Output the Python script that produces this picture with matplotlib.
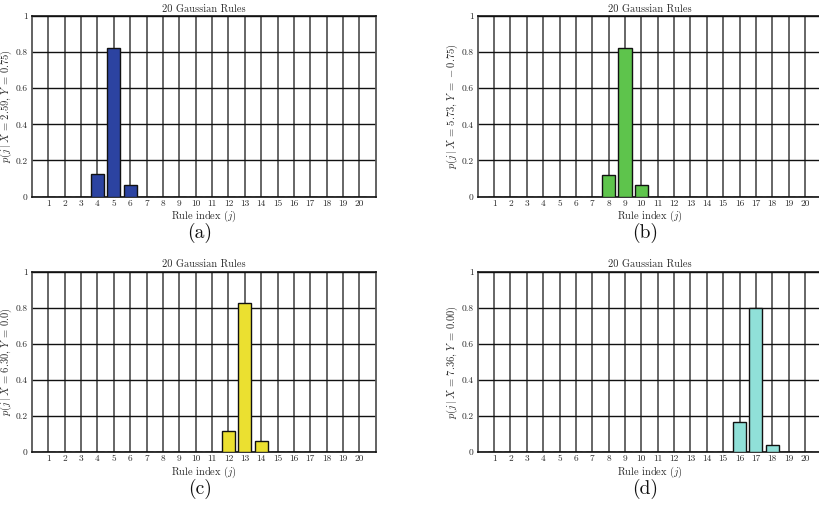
import matplotlib
matplotlib.use('Agg')
import matplotlib.pyplot as plt
import numpy as np

plt.rcParams['font.family'] = 'cmr10'
plt.rcParams['mathtext.fontset'] = 'cm'
plt.rcParams['axes.formatter.use_mathtext'] = True

# Rule indices and posterior probabilities for each query point
rules = np.arange(1, 21)
probs_a = [0, 0, 0, 0.122, 0.821, 0.061] + [0] * 14
probs_b = [0] * 7 + [0.118, 0.821, 0.063] + [0] * 10
probs_c = [0] * 11 + [0.115, 0.826, 0.063] + [0] * 6
probs_d = [0] * 15 + [0.167, 0.800, 0.041] + [0] * 2

ylabels = [r'$p(j\,|\,X\,=\,2.59,\,Y\,=\,0.75)$',
           r'$p(j\,|\,X\,=\,5.73,\,Y\,=\,-0.75)$',
           r'$p(j\,|\,X\,=\,6.30,\,Y\,=\,0.0)$',
           r'$p(j\,|\,X\,=\,7.36,\,Y\,=\,0.00)$']
panel_tags = ['(a)', '(b)', '(c)', '(d)']
colors = ['#2c43a1', '#5ec44c', '#ebe030', '#90e0d8']
ytick_vals = [0, 0.2, 0.4, 0.6, 0.8, 1]
ytick_labels = ['0', '0.2', '0.4', '0.6', '0.8', '1']

fig = plt.figure(figsize=(8.19, 5.05), dpi=100)

W, H = 819, 505
ax_w, ax_h = 343.7, 180.5
# left / top pixel positions of each panel
boxes = [(32, 16), (477.7, 16), (32, 271.5), (477.7, 271.5)]

text_col = '#2a2a2a'
for k, probs in enumerate([probs_a, probs_b, probs_c, probs_d]):
    x0, y0 = boxes[k]
    ax = fig.add_axes([x0 / W, 1 - (y0 + ax_h) / H, ax_w / W, ax_h / H])
    ax.set_axisbelow(True)
    ax.bar(rules, probs, width=0.8, color=colors[k], edgecolor='#111111', linewidth=1.0, zorder=3)

    ax.set_xlim(0, 21)
    ax.set_ylim(0, 1)
    ax.set_xticks(rules)
    ax.set_xticklabels([str(r) for r in rules], fontsize=6.8, color=text_col)
    ax.set_yticks(ytick_vals)
    ax.set_yticklabels(ytick_labels, fontsize=6.8, color=text_col)
    ax.tick_params(axis='x', length=0, pad=2)
    ax.tick_params(axis='y', length=0, pad=3)

    ax.xaxis.grid(True, color='#5a5a5a', linewidth=1.3)
    ax.yaxis.grid(True, color='#111111', linewidth=1.0)
    for side in ['top', 'bottom']:
        ax.spines[side].set_color('#111111')
        ax.spines[side].set_linewidth(1.2)
    for side in ['left', 'right']:
        ax.spines[side].set_color('#555555')
        ax.spines[side].set_linewidth(1.3)

    ax.set_title('20 Gaussian Rules', fontsize=7.5, color=text_col, pad=3)
    ax.set_xlabel(r'Rule index $(j)$', fontsize=7.5, color=text_col)
    ax.xaxis.set_label_coords(0.5, -12.5 / ax_h)
    ax.set_ylabel(ylabels[k], fontsize=7.6, color=text_col)
    ax.yaxis.set_label_coords(-17.5 / ax_w, 0.5)

    fig.text((x0 + ax_w / 2 - 4) / W, 1 - (y0 + 217) / H, panel_tags[k],
             fontsize=14, ha='center', va='center', color='#111111')

fig.savefig('out.png', dpi=100)
